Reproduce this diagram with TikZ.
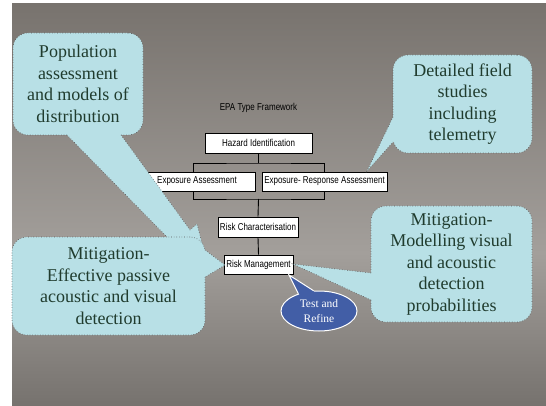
\documentclass[tikz,border=0pt]{standalone}
\usepackage{fontspec}
\setmainfont{Liberation Serif}
\newfontfamily\narrowfont[FakeStretch=0.8]{Liberation Sans}
\usetikzlibrary{calc,shapes.geometric}
\definecolor{bgtop}{RGB}{120,115,110}
\definecolor{bgmid}{RGB}{163,159,155}
\definecolor{bgbot}{RGB}{118,114,110}
\definecolor{calloutfill}{RGB}{184,224,230}
\definecolor{callouttext}{RGB}{32,60,46}
\definecolor{calloutline}{RGB}{85,85,85}
\definecolor{testblue}{RGB}{66,94,166}
\pgfdeclareverticalshading{bgshade}{100bp}{color(0bp)=(bgbot); color(25bp)=(bgbot); color(44bp)=(bgmid); color(75bp)=(bgtop); color(100bp)=(bgtop)}
\tikzset{
  flowbox/.style={draw=black, line width=0.9pt, fill=white, inner sep=0pt, font=\narrowfont\fontsize{10}{12}\selectfont},
  flowline/.style={draw=black, line width=0.9pt},
  calloutbox/.style={fill=calloutfill, draw=calloutline, dotted, line width=0.6pt, rounded corners=15pt, inner sep=0pt, align=center, text=callouttext, font=\fontsize{18}{21.5}\selectfont},
  callouttail/.style={fill=calloutfill},
  tailedge/.style={draw=calloutline, dotted, line width=0.6pt},
  testbubble/.style={ellipse, fill=testblue, draw=white, line width=1pt, inner sep=0pt, align=center, text=white, font=\fontsize{11.5}{15}\selectfont},
  titletext/.style={font=\narrowfont\fontsize{10}{12}\selectfont, text=black, inner sep=0pt}
}
\begin{document}
\begin{tikzpicture}[x=1pt,y=-1pt]
\useasboundingbox (0,0) rectangle (546,406);
\fill[white] (0,0) rectangle (546,406);
\shade[shading=bgshade] (12,4) rectangle (546,406);

% title
\node[titletext] (title) at (258.5,108) {EPA Type Framework};

% flowchart boxes
\node[flowbox, minimum width=107, minimum height=20] (haz) at (258.5,143) {Hazard Identification};
\node[flowbox, minimum width=116, minimum height=19] (expa) at (197,181.5) {Exposure Assessment};
\node[flowbox, minimum width=125, minimum height=19] (expr) at (324.5,181.5) {Exposure- Response Assessment};
\node[flowbox, minimum width=80, minimum height=20] (riskc) at (258,227) {Risk Characterisation};
\node[flowbox, minimum width=69, minimum height=19] (riskm) at (258.5,264.5) {Risk Management};

% connectors
\coordinate (jtop) at (258.5,163);
\coordinate (jbot) at (258.5,199);
\draw[flowline] (haz.south) -- (jtop);
\draw[flowline] ($(expa.north)+(-4,0)$) |- (jtop) -| (expr.north);
\draw[flowline] ($(expa.south)+(-4,0)$) |- (jbot) -| (expr.south);
\draw[flowline] (jbot) -- (riskc.north);
\draw[flowline] (riskc.south) -- (riskm.north);

% Test and Refine bubble
\node[testbubble, minimum width=76, minimum height=40] (test) at (319,311) {Test and\\Refine};
\coordinate (testtip) at (289,275);
\fill[testblue] ($(test.140)!0.15!(test.center)$) -- (test.140) -- (testtip) -- (test.105) -- ($(test.105)!0.15!(test.center)$) -- cycle;
\draw[white, line width=1pt] (test.140) -- (testtip) -- (test.105);

% Detailed field studies callout
\node[calloutbox, minimum width=139, minimum height=98] (det) at (462.5,104) {Detailed field\\studies\\including\\telemetry};
\fill[callouttail] (400,117) -- (393,117) -- (367,171) -- (393,142) -- (400,142) -- cycle;
\draw[tailedge] (393,117) -- (367,171) -- (393,142);

% Mitigation - Modelling callout
\node[calloutbox, minimum width=161, minimum height=116] (mod) at (451.5,264) {Mitigation-\\Modelling visual\\and acoustic\\detection\\probabilities};
\fill[callouttail] (378,273) -- (371,273) -- (293,264) -- (371,300) -- (378,300) -- cycle;
\draw[tailedge] (371,273) -- (293,264) -- (371,300);

% Population callout
\node[calloutbox, minimum width=130, minimum height=102] (pop) at (78,84) {Population\\assessment\\and models of\\distribution};
\fill[callouttail] (67,128) -- (67,135) -- (170,240) -- (205,255) -- (197,224) -- (190,230) -- (121,135) -- (121,128) -- cycle;
\draw[tailedge] (67,135) -- (170,240);
\draw[tailedge] (121,135) -- (190,230) -- (197,224) -- (205,255);

% Mitigation - Effective callout
\node[calloutbox, minimum width=193, minimum height=98] (eff) at (108.5,286) {Mitigation-\\Effective passive\\acoustic and visual\\detection};
\fill[callouttail] (198,250) -- (205,250) -- (225,265) -- (205,277) -- (198,277) -- cycle;
\draw[tailedge] (205,250) -- (225,265) -- (205,277);
\end{tikzpicture}
\end{document}
